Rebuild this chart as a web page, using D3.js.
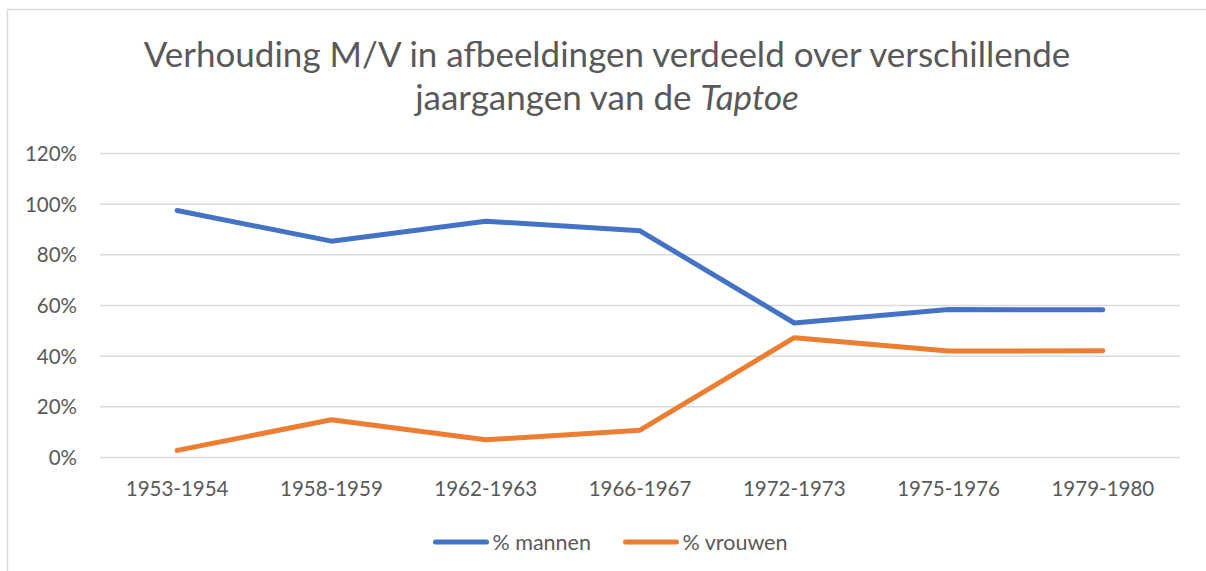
<!DOCTYPE html>
<html>
<head>
<meta charset="utf-8">
<script src="https://cdn.jsdelivr.net/npm/d3@7"></script>
<style>
  body { margin: 0; background: #fff; }
  svg, svg text { font-family: Lato, "Open Sans", sans-serif; }
</style>
</head>
<body>
<div id="chart"></div>
<script>
// data
const periods = ["1953-1954", "1958-1959", "1962-1963", "1966-1967", "1972-1973", "1975-1976", "1979-1980"];
const mannen = [97.3, 85.2, 93.1, 89.3, 52.9, 58.2, 58.1];
const vrouwen = [2.6, 14.7, 6.8, 10.6, 47.1, 41.8, 41.9];
const yTicks = [0, 20, 40, 60, 80, 100, 120];
const seriesNames = ["% mannen", "% vrouwen"];

const width = 1206, height = 571,
    margin = {top: 153, bottom: 114, left: 100, right: 26},
    colors = ["#4472C4", "#ED7D31"];

const svg = d3.select("#chart")
    .append("svg")
    .attr("width", width)
    .attr("height", height);

// chart area border (continues off the right and bottom edges)
svg.append("rect")
    .attr("x", 7.5).attr("y", 9.5)
    .attr("width", width + 20).attr("height", height + 20)
    .attr("fill", "none")
    .attr("stroke", "#d9d9d9")
    .attr("stroke-width", 1.5);

const xScale = d3.scaleBand()
    .domain(periods)
    .range([margin.left, width - margin.right]);

const yScale = d3.scaleLinear()
    .domain([0, 120])
    .range([height - margin.bottom, margin.top]);

// title
const title = svg.append("text")
    .attr("text-anchor", "middle")
    .attr("fill", "#595959")
    .style("font-size", "35px");
title.append("tspan")
    .attr("x", 607).attr("y", 67)
    .text("Verhouding M/V in afbeeldingen verdeeld over verschillende");
const line2 = title.append("tspan")
    .attr("x", 607).attr("y", 110);
line2.append("tspan").text("jaargangen van de ");
line2.append("tspan").style("font-style", "italic").text("Taptoe");

// gridlines + y labels
const yAxis = d3.axisLeft(yScale)
    .tickValues(yTicks)
    .tickSize(-(width - margin.left - margin.right))
    .tickPadding(23)
    .tickFormat(d => d + "%");

svg.append("g")
    .attr("class", "y-axis")
    .attr("transform", `translate(${margin.left}, 0)`)
    .call(yAxis)
    .attr("font-family", null)
    .call(g => g.select(".domain").remove())
    .call(g => g.selectAll("line").attr("stroke", "#d9d9d9").attr("stroke-width", 1.5))
    .call(g => g.selectAll("text").attr("fill", "#595959").style("font-size", "20.5px").attr("dy", "0.36em"));

// x labels
const xAxis = d3.axisBottom(xScale).tickSize(0).tickPadding(24);
svg.append("g")
    .attr("class", "x-axis")
    .attr("transform", `translate(0, ${height - margin.bottom})`)
    .call(xAxis)
    .attr("font-family", null)
    .call(g => g.select(".domain").remove())
    .call(g => g.selectAll("text").attr("fill", "#595959").style("font-size", "20.5px"));

// lines
const line = d3.line()
    .x((d, i) => xScale(periods[i]) + xScale.bandwidth() / 2)
    .y(d => yScale(d));

[mannen, vrouwen].forEach((vals, i) => {
    svg.append("path")
        .datum(vals)
        .attr("d", line)
        .attr("fill", "none")
        .attr("stroke", colors[i])
        .attr("stroke-width", 5)
        .attr("stroke-linecap", "round")
        .attr("stroke-linejoin", "round");
});

// legend
const legendX = [435.5, 625.5];
const legend = svg.selectAll(".legend")
    .data(seriesNames)
    .join("g")
    .attr("class", "legend")
    .attr("transform", (d, i) => `translate(${legendX[i]}, 542)`);

legend.append("line")
    .attr("x1", 0).attr("x2", 51)
    .attr("stroke", (d, i) => colors[i])
    .attr("stroke-width", 5)
    .attr("stroke-linecap", "round");

legend.append("text")
    .attr("x", 57)
    .attr("dy", "0.36em")
    .attr("fill", "#595959")
    .style("font-size", "21.5px")
    .text(d => d);
</script>
</body>
</html>
